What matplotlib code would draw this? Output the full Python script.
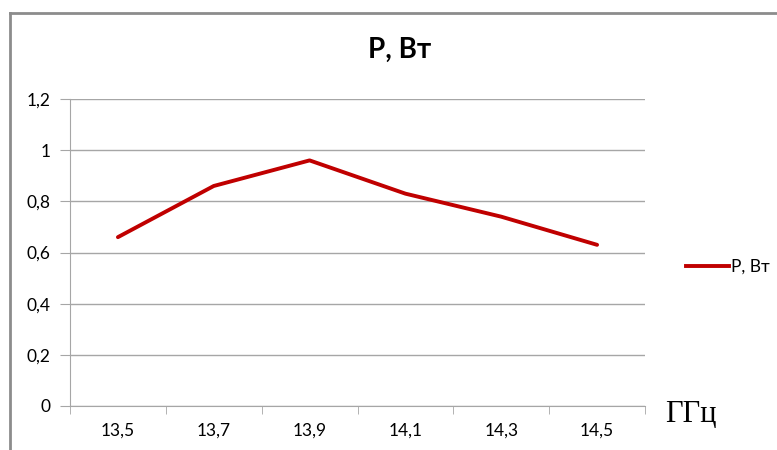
import matplotlib.pyplot as plt
from matplotlib.lines import Line2D

freq_labels = ["13,5", "13,7", "13,9", "14,1", "14,3", "14,5"]
power = [0.66, 0.86, 0.96, 0.83, 0.74, 0.63]
y_ticks = [0, 0.2, 0.4, 0.6, 0.8, 1.0, 1.2]
y_labels = ["0", "0,2", "0,4", "0,6", "0,8", "1", "1,2"]

plt.rcParams['font.family'] = ['Lato', 'DejaVu Sans']

fig = plt.figure(figsize=(7.77, 4.5), dpi=100)
ax = fig.add_axes([70 / 777, 1 - 406 / 450, 575 / 777, 307 / 450])

x = list(range(len(power)))
ax.plot(x, power, color='#c00000', linewidth=2.8, solid_capstyle='round', label='P, Вт')

ax.set_xlim(-0.5, len(power) - 0.5)
ax.set_ylim(0, 1.2)
ax.set_yticks(y_ticks)
ax.set_yticklabels(y_labels, fontsize=12.5)
ax.set_xticks(x)
ax.set_xticklabels(freq_labels, fontsize=12.5)
ax.set_xticks([i - 0.5 for i in range(len(power) + 1)], minor=True)

ax.grid(axis='y', color='#a6a6a6', linewidth=1)
ax.set_axisbelow(True)
ax.tick_params(axis='x', which='major', length=0, pad=12)
ax.tick_params(axis='x', which='minor', length=6, color='#a6a6a6')
ax.tick_params(axis='y', length=7, color='#a6a6a6', pad=7)
for side in ['top', 'right']:
    ax.spines[side].set_visible(False)
for side in ['left', 'bottom']:
    ax.spines[side].set_color('#a6a6a6')

fig.text(400 / 777, 1 - 50 / 450, "P, Вт", fontsize=20, fontweight='bold',
         ha='center', va='center')
fig.text(665 / 777, 1 - 414 / 450, "ГГц", fontsize=22, family='Liberation Serif',
         ha='left', va='center')

handle = Line2D([], [], color='#c00000', linewidth=2.8)
fig.legend([handle], ['P, Вт'], loc='center left', bbox_to_anchor=(670 / 777, 1 - 267 / 450),
           frameon=False, fontsize=12.5, handlelength=2.5, handletextpad=0.1)

# рамка диаграммы
fig.add_artist(Line2D([10 / 777, 10 / 777], [0, 1 - 13 / 450], color='#8c8c8c', linewidth=2))
fig.add_artist(Line2D([10 / 777, 1], [1 - 13 / 450, 1 - 13 / 450], color='#8c8c8c', linewidth=2))

fig.savefig("out.png", dpi=100)
